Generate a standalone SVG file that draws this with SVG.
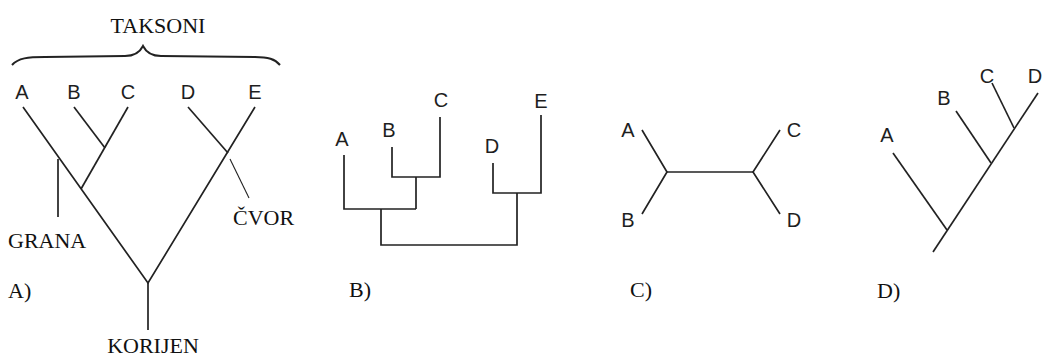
<svg xmlns="http://www.w3.org/2000/svg" width="1044" height="356" viewBox="0 0 1044 356">
<style>
.ln{stroke:#222;stroke-width:1.7;fill:none;stroke-linecap:butt}
.thin{stroke:#222;stroke-width:1.1;fill:none}
.brace{stroke:#222;stroke-width:2;fill:none}
.sans{font-family:"Liberation Sans",Arial,sans-serif;font-size:20px;fill:#1e1e1e;text-anchor:middle}
.serif{font-family:"Liberation Serif","Times New Roman",serif;font-size:22px;fill:#111}
</style>
<rect width="1044" height="356" fill="#fff"/>
<g id="panelA">
  <g id="connectorsA">
    <path class="ln" d="M23,107 L148,283 L255,107"/>
    <path class="ln" d="M148,283 L148,330"/>
    <path class="ln" d="M188,107 L228,153"/>
    <path class="ln" d="M74,107 L105,148"/>
    <path class="ln" d="M128,107 L81,189"/>
    <path class="ln" d="M58,159 L58,217"/>
    <path class="thin" d="M230,159 L249,198"/>
    <path class="brace" d="M12,65 C18,58 28,57 45,57 L125,56 C135,56 140,52 143,46 C146,52 151,56 161,56 L255,57 C268,57 275,59 280,65"/>
  </g>
  <g id="A_taxa">
    <text class="sans" x="22" y="99">A</text>
    <text class="sans" x="74" y="99">B</text>
    <text class="sans" x="128" y="99">C</text>
    <text class="sans" x="188" y="99">D</text>
    <text class="sans" x="255" y="99">E</text>
  </g>
  <text class="serif" x="158" y="33" text-anchor="middle">TAKSONI</text>
  <text class="serif" x="8" y="248">GRANA</text>
  <text class="serif" x="233" y="225">ČVOR</text>
  <text class="serif" x="8" y="298">A)</text>
  <text class="serif" x="153" y="353" text-anchor="middle">KORIJEN</text>
</g>
<g id="panelB">
  <g id="connectorsB">
    <path class="ln" d="M344,155 L344,209 L416,209"/>
    <path class="ln" d="M392,147 L392,177 L440,177 L440,117"/>
    <path class="ln" d="M416,177 L416,209"/>
    <path class="ln" d="M381,209 L381,245 L517,245 L517,193"/>
    <path class="ln" d="M493,163 L493,193 L541,193 L541,115"/>
  </g>
  <g id="B_taxa">
    <text class="sans" x="342" y="146">A</text>
    <text class="sans" x="389" y="137">B</text>
    <text class="sans" x="441" y="107">C</text>
    <text class="sans" x="492" y="153">D</text>
    <text class="sans" x="541" y="108">E</text>
  </g>
  <text class="serif" x="349" y="297">B)</text>
</g>
<g id="panelC">
  <g id="connectorsC">
    <path class="ln" d="M642,130 L667,172 L642,214"/>
    <path class="ln" d="M667,172 L753,172"/>
    <path class="ln" d="M780,130 L753,172 L780,214"/>
  </g>
  <g id="C_taxa">
    <text class="sans" x="628" y="137">A</text>
    <text class="sans" x="628" y="227">B</text>
    <text class="sans" x="794" y="137">C</text>
    <text class="sans" x="794" y="227">D</text>
  </g>
  <text class="serif" x="630" y="297">C)</text>
</g>
<g id="panelD">
  <g id="connectorsD">
    <path class="ln" d="M933,252 L1038,93"/>
    <path class="ln" d="M893,153 L947,230"/>
    <path class="ln" d="M956,111 L991,163"/>
    <path class="ln" d="M992,83 L1014,128"/>
  </g>
  <g id="D_taxa">
    <text class="sans" x="887" y="142">A</text>
    <text class="sans" x="944" y="105">B</text>
    <text class="sans" x="987" y="83">C</text>
    <text class="sans" x="1035" y="83" text-anchor="start">D</text>
  </g>
  <text class="serif" x="877" y="298">D)</text>
</g>
</svg>
